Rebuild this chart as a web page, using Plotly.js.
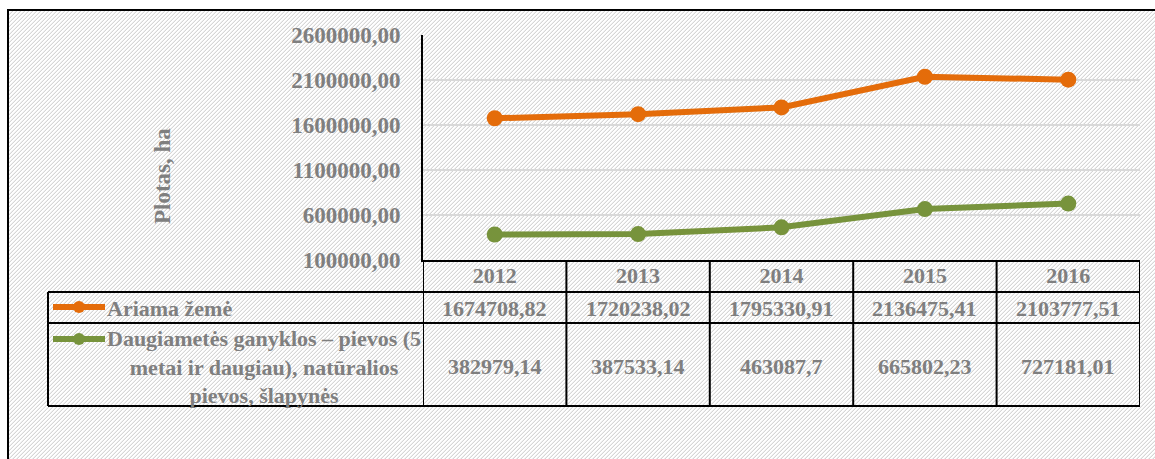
<!DOCTYPE html>
<html>
<head>
<meta charset="utf-8">
<script src="https://cdn.plot.ly/plotly-3.0.1.min.js"></script>
<style>
  body { margin: 0; background: #fff; }
  #wrap { position: relative; width: 1155px; height: 459px; overflow: hidden; background: #fff; }
  #frame {
    position: absolute; left: 7px; top: 9px; width: 1170px; height: 470px;
    border: 2px solid #000;
    background-image: url("data:image/svg+xml,%3Csvg xmlns='http://www.w3.org/2000/svg' width='4' height='4' shape-rendering='crispEdges'%3E%3Cg fill='%23f0f0f0'%3E%3Crect x='2' y='0' width='1' height='1'/%3E%3Crect x='1' y='1' width='1' height='1'/%3E%3Crect x='0' y='2' width='1' height='1'/%3E%3Crect x='3' y='3' width='1' height='1'/%3E%3C/g%3E%3Cg fill='%23d6d6d6'%3E%3Crect x='3' y='0' width='1' height='1'/%3E%3Crect x='2' y='1' width='1' height='1'/%3E%3Crect x='1' y='2' width='1' height='1'/%3E%3Crect x='0' y='3' width='1' height='1'/%3E%3C/g%3E%3C/svg%3E");
  }
  #chart { position: absolute; left: 0; top: 0; width: 1155px; height: 459px; }
</style>
</head>
<body>
<div id="wrap">
  <div id="frame"></div>
  <div id="chart"></div>
</div>
<script>
const years = ['2012', '2013', '2014', '2015', '2016'];
const arable = [1674708.82, 1720238.02, 1795330.91, 2136475.41, 2103777.51];
const grassland = [382979.14, 387533.14, 463087.7, 665802.23, 727181.01];
const arableLabel = 'Ariama žemė';
const grasslandLabel = ['Daugiametės ganyklos – pievos (5', 'metai ir daugiau), natūralios', 'pievos, šlapynės'];
const yTicks = [100000, 600000, 1100000, 1600000, 2100000, 2600000];
const yTitle = 'Plotas, ha';

const orange = '#E46C0A';
const green = '#77933C';
const textColor = '#7f7f7f';
const serif = 'Liberation Serif, Times New Roman, serif';

// plot area in pixels: x 423..1140, y 35..260
const px = (x) => (x - 423) / 717;
const py = (y) => (260 - y) / 225;

function fmt(v) {
  return String(v).replace('.', ',');
}

function lineTrace(name, values, color) {
  return {
    type: 'scatter',
    mode: 'lines+markers',
    name,
    x: years,
    y: values,
    line: { color, width: 6 },
    marker: { color, size: 16 },
    hoverinfo: 'skip'
  };
}

const shapes = [];
const blackLine = { color: '#000', width: 2 };

// table column borders
for (let i = -0.5; i <= years.length - 0.5; i += 1) {
  shapes.push({ type: 'line', xref: 'x', yref: 'paper', x0: i, x1: i, y0: py(260), y1: py(406), line: blackLine });
}
// table row borders
[292, 323, 406].forEach((y) => {
  shapes.push({ type: 'line', xref: 'paper', yref: 'paper', x0: px(48), x1: 1, y0: py(y), y1: py(y), line: blackLine });
});
shapes.push({ type: 'line', xref: 'paper', yref: 'paper', x0: px(48), x1: px(48), y0: py(292), y1: py(406), line: blackLine });

// legend keys
[[307, orange], [339, green]].forEach(([y, color]) => {
  shapes.push({ type: 'line', xref: 'paper', yref: 'paper', x0: px(53), x1: px(105), y0: py(y), y1: py(y), line: { color, width: 6 } });
  shapes.push({
    type: 'circle', xref: 'paper', yref: 'paper',
    x0: px(73), x1: px(85), y0: py(y + 6), y1: py(y - 6),
    fillcolor: color, line: { color, width: 0 }
  });
});

const cellFont = { family: serif, size: 22, color: textColor, weight: 'bold' };
const b = (s) => `<b>${s}</b>`;
const annotations = [];
years.forEach((yr, i) => {
  annotations.push({ xref: 'x', yref: 'paper', x: i, y: py(308), text: b(fmt(arable[i])), showarrow: false, font: cellFont, yanchor: 'middle' });
  annotations.push({ xref: 'x', yref: 'paper', x: i, y: py(366), text: b(fmt(grassland[i])), showarrow: false, font: cellFont, yanchor: 'middle' });
});
annotations.push({ xref: 'paper', yref: 'paper', x: px(105), y: py(308), text: b(arableLabel), showarrow: false, font: cellFont, xanchor: 'left', yanchor: 'middle' });
annotations.push({
  xref: 'paper', yref: 'paper', x: px(264), y: py(367), text: grasslandLabel.map(b).join('<br>'),
  showarrow: false, font: cellFont, xanchor: 'center', yanchor: 'middle', align: 'center'
});
annotations.push({
  xref: 'paper', yref: 'paper', x: px(162), y: py(176), text: b(yTitle), textangle: -90,
  showarrow: false, font: { family: serif, size: 23, color: textColor, weight: 'bold' }, xanchor: 'center', yanchor: 'middle'
});

const layout = {
  width: 1155,
  height: 459,
  margin: { l: 423, r: 15, t: 35, b: 199 },
  paper_bgcolor: 'rgba(0,0,0,0)',
  plot_bgcolor: 'rgba(0,0,0,0)',
  separators: ',.',
  showlegend: false,
  xaxis: {
    type: 'category',
    range: [-0.5, years.length - 0.5],
    showgrid: false,
    zeroline: false,
    showline: true,
    linecolor: '#000',
    linewidth: 2,
    ticks: '',
    tickvals: years,
    ticktext: years.map(b),
    tickfont: cellFont,
    ticklabelstandoff: -5
  },
  yaxis: {
    range: [100000, 2600000],
    tickvals: yTicks,
    ticktext: yTicks.map((v) => b(v.toFixed(2).replace('.', ','))),
    showgrid: true,
    gridcolor: '#d9d9d9',
    gridwidth: 1.5,
    zeroline: false,
    showline: true,
    linecolor: '#000',
    linewidth: 2,
    ticks: '',
    ticklabelstandoff: 16,
    tickfont: { family: serif, size: 23, color: textColor, weight: 'bold' }
  },
  shapes,
  annotations
};

Plotly.newPlot('chart', [lineTrace(arableLabel, arable, orange), lineTrace(grasslandLabel.join(' '), grassland, green)], layout, {
  displayModeBar: false,
  staticPlot: true
});
</script>
</body>
</html>
